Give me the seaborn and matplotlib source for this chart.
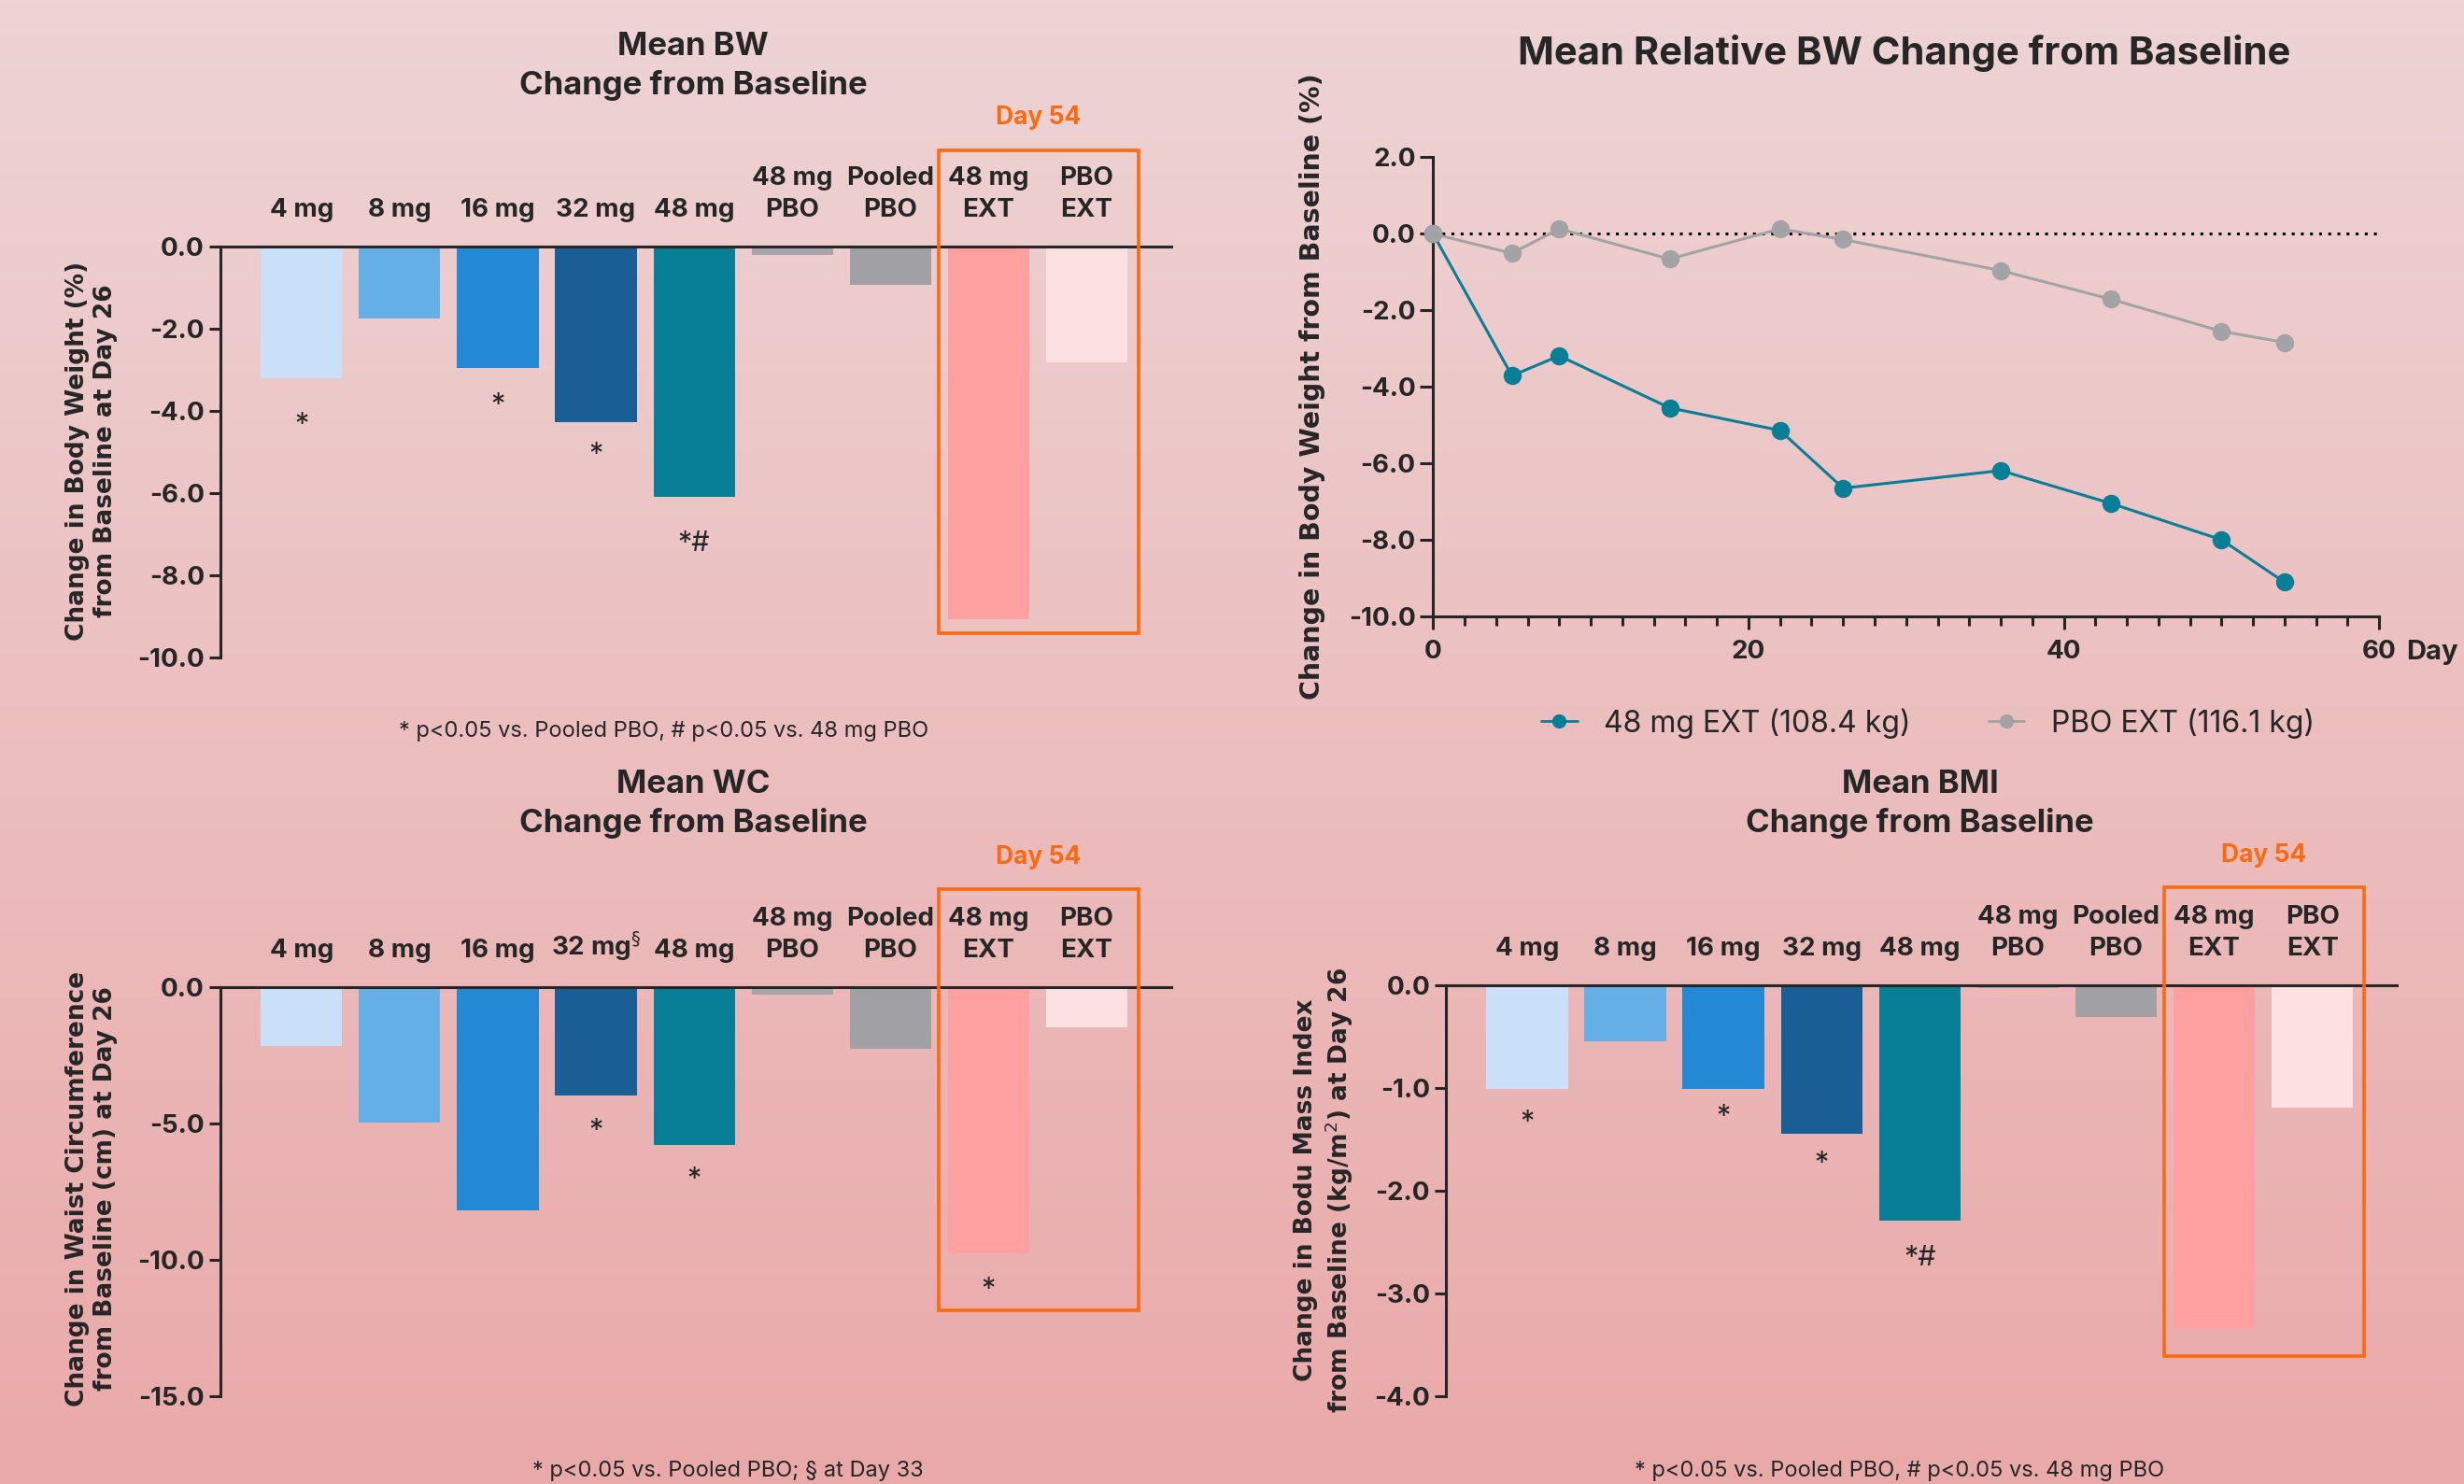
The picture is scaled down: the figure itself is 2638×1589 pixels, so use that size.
import numpy as np
import pandas as pd
import matplotlib
matplotlib.use("Agg")
import matplotlib.pyplot as plt
from matplotlib.patches import Rectangle
from matplotlib.lines import Line2D
import seaborn as sns

sns.set_style("ticks")
plt.rcParams['font.family'] = ['Inter', 'DejaVu Sans']
plt.rcParams['axes.linewidth'] = 2.2

# ---- data ----
cats = ['4 mg', '8 mg', '16 mg', '32 mg', '48 mg', '48 mg\nPBO', 'Pooled\nPBO', '48 mg\nEXT', 'PBO\nEXT']
bar_colors = ['#cae0f9', '#64afe6', '#2389d4', '#195f95', '#087e97', '#a7a5a9', '#a1a0a4', '#fea0a0', '#fde0e1']

bw_vals = [-3.21, -1.74, -2.95, -4.28, -6.08, -0.20, -0.93, -9.07, -2.82]
bw_marks = ['*', '', '*', '*', '*#', '', '', '', '']
bw_mark_y = [-4.14, 0, -3.68, -4.87, -7.03, 0, 0, 0, 0]

wc_vals = [-2.17, -4.96, -8.19, -3.96, -5.78, -0.28, -2.24, -9.78, -1.46]
wc_marks = ['', '', '', '*', '*', '', '', '*', '']
wc_mark_y = [0, 0, 0, -5.0, -6.76, 0, 0, -10.8, 0]

bmi_vals = [-1.01, -0.54, -1.01, -1.44, -2.29, -0.02, -0.31, -3.34, -1.19]
bmi_marks = ['*', '', '*', '*', '*#', '', '', '', '']
bmi_mark_y = [-1.26, 0, -1.20, -1.66, -2.58, 0, 0, 0, 0]

days = [0, 5, 8, 15, 22, 26, 36, 43, 50, 54]
ext48_pct = [0, -3.71, -3.19, -4.55, -5.14, -6.65, -6.19, -7.05, -8.00, -9.11]
pboext_pct = [0, -0.51, 0.13, -0.66, 0.13, -0.15, -0.96, -1.71, -2.55, -2.84]

teal = '#087e97'
grey = '#a3a3a6'
orange = '#fb6a10'

fig = plt.figure(figsize=(26.38, 15.89), dpi=100)

# pink gradient background
bg = fig.add_axes([0, 0, 1, 1], zorder=-5)
top = np.array(matplotlib.colors.to_rgb('#eed4d5'))
bot = np.array(matplotlib.colors.to_rgb('#eaa9a9'))
t = np.linspace(0, 1, 256)[:, None]
grad = (top[None, :] * (1 - t) + bot[None, :] * t)[:, None, :]
bg.imshow(grad, aspect='auto', extent=[0, 1, 0, 1])
bg.axis('off')


def bar_panel(rect, vals, marks, mark_y, ymin, yticks, box_y, day_y, tick_labels):
    ax = fig.add_axes(rect)
    ax.set_facecolor('none')
    df = pd.DataFrame({'cat': cats, 'val': vals})
    sns.barplot(data=df, x='cat', y='val', hue='cat', palette=bar_colors,
                legend=False, width=0.83, saturation=1, linewidth=0, ax=ax)
    ax.set_xlim(-0.83, 8.86)
    ax.set_ylim(ymin, 0)
    ax.xaxis.tick_top()
    ax.set_xticks(range(len(cats)))
    ax.set_xticklabels(tick_labels, fontsize=20, fontweight='bold')
    for lbl in ax.get_xticklabels():
        lbl.set_linespacing(1.4)
    ax.tick_params(axis='x', direction='in', length=12, width=2.2, pad=19)
    ax.set_yticks(yticks)
    ax.set_yticklabels([f'{v:.1f}' for v in yticks], fontsize=20, fontweight='bold')
    ax.tick_params(axis='y', direction='out', length=9, width=2.2, pad=3)
    ax.set_xlabel('')
    ax.set_ylabel('')
    sns.despine(ax=ax, top=False, bottom=True, right=True)
    for i, (m, y) in enumerate(zip(marks, mark_y)):
        if m:
            ax.annotate(m, (i, y), xytext=(0, -6), textcoords='offset points',
                        ha='center', va='center', fontsize=22)
    ax.add_patch(Rectangle((6.49, box_y[0]), 2.04, box_y[1] - box_y[0], fill=False,
                           edgecolor=orange, linewidth=2.6, clip_on=False, zorder=5))
    ax.text(7.51, day_y, 'Day 54', color=orange, ha='center', va='center',
            fontsize=19, fontweight='bold', clip_on=False)
    return ax


ax1 = bar_panel([0.0893, 0.557, 0.386, 0.2767], bw_vals, bw_marks, bw_mark_y,
                -10, [0, -2, -4, -6, -8, -10], (-9.42, 2.34), 3.15, cats)
fig.text(0.2813, 0.9555, 'Mean BW\nChange from Baseline', ha='center', va='center',
         fontsize=25, fontweight='bold', linespacing=1.35)
fig.text(0.037, 0.696, 'Change in Body Weight (%)\nfrom Baseline at Day 26', rotation=90,
         ha='center', va='center', fontsize=19, fontweight='bold', family='DejaVu Sans')
fig.text(0.2695, 0.507, '* p<0.05 vs. Pooled PBO, # p<0.05 vs. 48 mg PBO',
         ha='center', va='center', fontsize=17)

wc_labels = list(cats)
wc_labels[3] = '32 mg$^{\\S}$'
ax3 = bar_panel([0.0893, 0.0593, 0.386, 0.2754], wc_vals, wc_marks, wc_mark_y,
                -15, [0, -5, -10, -15], (-11.84, 3.6), 4.77, wc_labels)
fig.text(0.2813, 0.4582, 'Mean WC\nChange from Baseline', ha='center', va='center',
         fontsize=25, fontweight='bold', linespacing=1.35)
fig.text(0.037, 0.199, 'Change in Waist Circumference\nfrom Baseline (cm) at Day 26', rotation=90,
         ha='center', va='center', fontsize=19, fontweight='bold', family='DejaVu Sans')
fig.text(0.2953, 0.0085, '* p<0.05 vs. Pooled PBO; § at Day 33',
         ha='center', va='center', fontsize=17)

ax4 = bar_panel([0.5867, 0.0593, 0.386, 0.2765], bmi_vals, bmi_marks, bmi_mark_y,
                -4, [0, -1, -2, -3, -4], (-3.61, 0.96), 1.27, cats)
fig.text(0.7793, 0.4582, 'Mean BMI\nChange from Baseline', ha='center', va='center',
         fontsize=25, fontweight='bold', linespacing=1.35)
fig.text(0.5375, 0.198, 'Change in Bodu Mass Index\nfrom Baseline (kg/m$^2$) at Day 26', rotation=90,
         ha='center', va='center', fontsize=19, fontweight='bold', family='DejaVu Sans')
fig.text(0.7707, 0.0085, '* p<0.05 vs. Pooled PBO, # p<0.05 vs. 48 mg PBO',
         ha='center', va='center', fontsize=17)

# ---- line panel ----
ax2 = fig.add_axes([0.5816, 0.5847, 0.384, 0.3093])
ax2.set_facecolor('none')
line_df = pd.DataFrame({
    'day': days + days,
    'pct': ext48_pct + pboext_pct,
    'grp': ['48 mg EXT (108.4 kg)'] * len(days) + ['PBO EXT (116.1 kg)'] * len(days),
})
ax2.axhline(0, color='black', linestyle=(0, (1, 2.2)), linewidth=2.2, zorder=1)
sns.lineplot(data=line_df, x='day', y='pct', hue='grp', palette=[teal, grey],
             marker='o', markersize=14, markeredgewidth=0, linewidth=2.2,
             legend=False, clip_on=False, zorder=3, ax=ax2)
ax2.set_xlim(0, 60)
ax2.set_ylim(-10, 2)
ax2.set_xticks([0, 20, 40, 60])
ax2.set_xticks(np.arange(0, 61, 2), minor=True)
ax2.set_xticklabels(['0', '20', '40', '60'], fontsize=20, fontweight='bold')
ax2.set_yticks([2, 0, -2, -4, -6, -8, -10])
ax2.set_yticklabels([f'{v:.1f}' for v in [2, 0, -2, -4, -6, -8, -10]], fontsize=20, fontweight='bold')
ax2.tick_params(axis='both', which='major', direction='out', length=10, width=2.2)
ax2.tick_params(axis='x', which='minor', direction='out', length=7, width=2.2)
ax2.tick_params(axis='x', pad=8)
ax2.set_xlabel('')
ax2.set_ylabel('')
sns.despine(ax=ax2)
ax2.text(61.7, -10.95, 'Day', ha='left', va='center', fontsize=21, fontweight='bold', clip_on=False)
fig.text(0.773, 0.964, 'Mean Relative BW Change from Baseline', ha='center', va='center',
         fontsize=30, fontweight='bold')
fig.text(0.5325, 0.740, 'Change in Body Weight from Baseline (%)', rotation=90,
         ha='center', va='center', fontsize=20.5, fontweight='bold', family='DejaVu Sans')
handles = [Line2D([], [], color=teal, marker='o', markersize=10, linewidth=2),
           Line2D([], [], color=grey, marker='o', markersize=10, linewidth=2)]
fig.legend(handles, ['48 mg EXT (108.4 kg)', 'PBO EXT (116.1 kg)'], loc='center',
           bbox_to_anchor=(0.7825, 0.5127), ncol=2, frameon=False, fontsize=23,
           handlelength=1.2, columnspacing=2.6, handletextpad=0.9)

fig.savefig('out.png', dpi=100)
